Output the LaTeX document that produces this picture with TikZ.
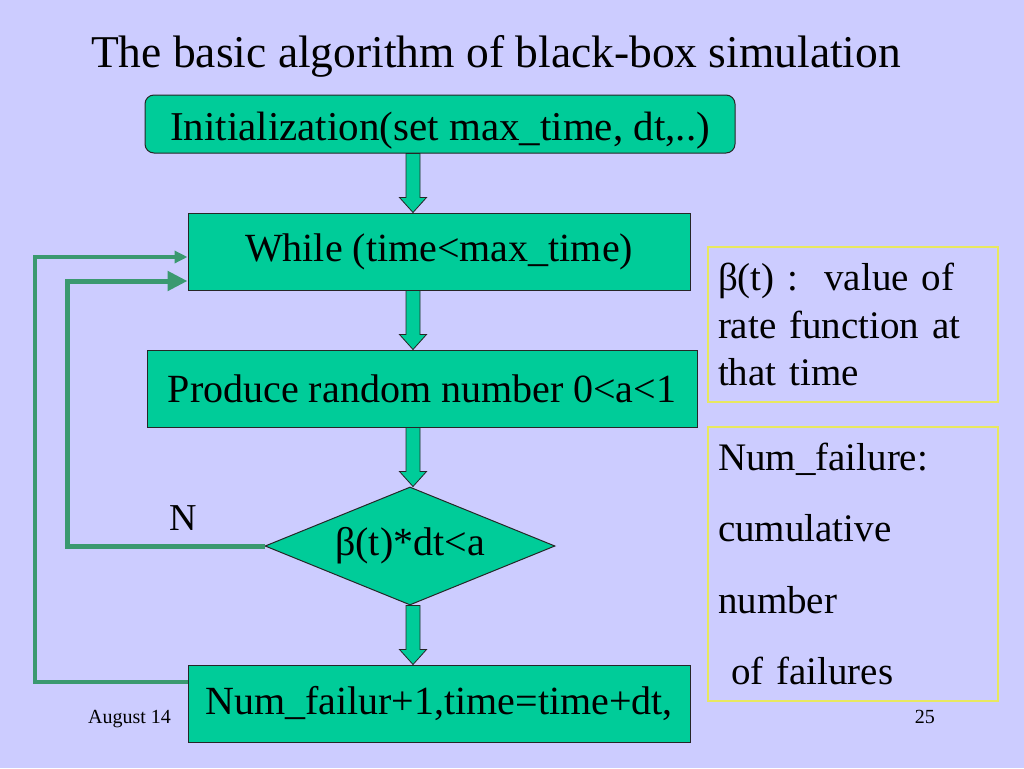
\documentclass[tikz,border=0pt]{standalone}
\usepackage{fontspec}
\setmainfont{Liberation Serif}
\usetikzlibrary{shapes.geometric,arrows.meta,calc}
\definecolor{slidebg}{HTML}{CCCCFF}
\definecolor{boxgreen}{HTML}{00CC99}
\definecolor{loopgreen}{HTML}{3A9970}
\definecolor{noteyellow}{HTML}{E8E860}
\tikzset{
  stepbox/.style={draw=black!85,line width=1pt,fill=boxgreen,inner sep=0pt,
    minimum height=77pt,font=\fontsize{40}{46}\selectfont},
  decision/.style={diamond,aspect=2.46,draw=black!85,line width=1pt,fill=boxgreen,inner sep=0pt,
    minimum width=290pt,minimum height=118pt,font=\fontsize{40}{46}\selectfont},
  notebox/.style={draw=noteyellow,line width=1.5pt,minimum width=290pt,inner sep=0pt,
    text width=270pt,align=left},
  blockarrow/.style={draw=black!85,line width=0.8pt,fill=boxgreen,line join=miter},
  loopline/.style={draw=loopgreen,line width=4pt},
}
% block arrow down the spine, from the bottom of #1 to the top of #2
\newcommand\flowarrow[2]{%
    \path (#1.south -| spine) coordinate (fa) (#2.north -| spine) coordinate (fb);
    \draw[blockarrow] ($(fa)+(-7,0)$) -- ($(fb)+(-7,-15)$) -- ($(fb)+(-13.5,-15)$)
    -- (fb) -- ($(fb)+(13.5,-15)$) -- ($(fb)+(7,-15)$) -- ($(fa)+(7,0)$) -- cycle;
    }

\begin{document}
\begin{tikzpicture}[x=1pt,y=-1pt]
    \fill[slidebg] (0,0) rectangle (1024,768);
    \useasboundingbox (0,0) rectangle (1024,768);
    \coordinate (spine) at (413,0);

    \node[anchor=base,inner sep=0pt,font=\fontsize{45.5}{52}\selectfont] (title) at (496,67)
        {The basic algorithm of black-box simulation};

    % the flow chart
    \node[stepbox,rounded corners=9pt,minimum width=590pt,minimum height=58pt,
        text height=41pt,text depth=8pt,font=\fontsize{41}{46}\selectfont] (init) at (440,124)
        {Initialization(set max\_time, dt,..)};
    \node[stepbox,minimum width=502pt] (while) at (439,251.5) {While (time<max\_time)};
    \node[stepbox,minimum width=550pt] (produce) at (422,388.5) {Produce random number 0<a<1};
    \node[decision] (test) at (410,546) {β(t)*dt<a};
    \node[stepbox,minimum width=502pt] (count) at (439,703.5) {Num\_failur+1,time=time+dt,};

    \flowarrow{init}{while}
    \flowarrow{while}{produce}
    \flowarrow{produce}{test}
    \flowarrow{test}{count}

    % the two loops back to the while box
    \draw[loopline,-{Triangle[length=13pt,width=12pt]}] ([yshift=21.5pt]count.west) -- ++(-153,0)
        |- ([yshift=-5.5pt]while.west);
    \draw[loopline,line width=5pt,-{Triangle[length=20pt,width=19pt]}] (test.west) -- ++(-197,0)
        |- ([yshift=-29.5pt]while.west);
    \node[font=\fontsize{38}{44}\selectfont] (no) at (183,518) {N};

    % notes on the right
    \node[notebox,minimum height=155pt,font=\fontsize{39}{47.5}\selectfont] (rate) at (853,324.5)
        {β(t) :\ \ value of\\ rate function at\\ that time};
    \node[notebox,minimum height=274pt,font=\fontsize{39}{71.5}\selectfont] (failure) at (853,564)
        {Num\_failure:\\ cumulative\\ number\\ \ of failures};

    \node[anchor=base west,inner sep=0pt,font=\fontsize{20}{22}\selectfont] (date) at (88,723) {August 14};
    \node[anchor=base east,inner sep=0pt,font=\fontsize{20}{22}\selectfont] (page) at (935,723) {25};
\end{tikzpicture}
\end{document}
